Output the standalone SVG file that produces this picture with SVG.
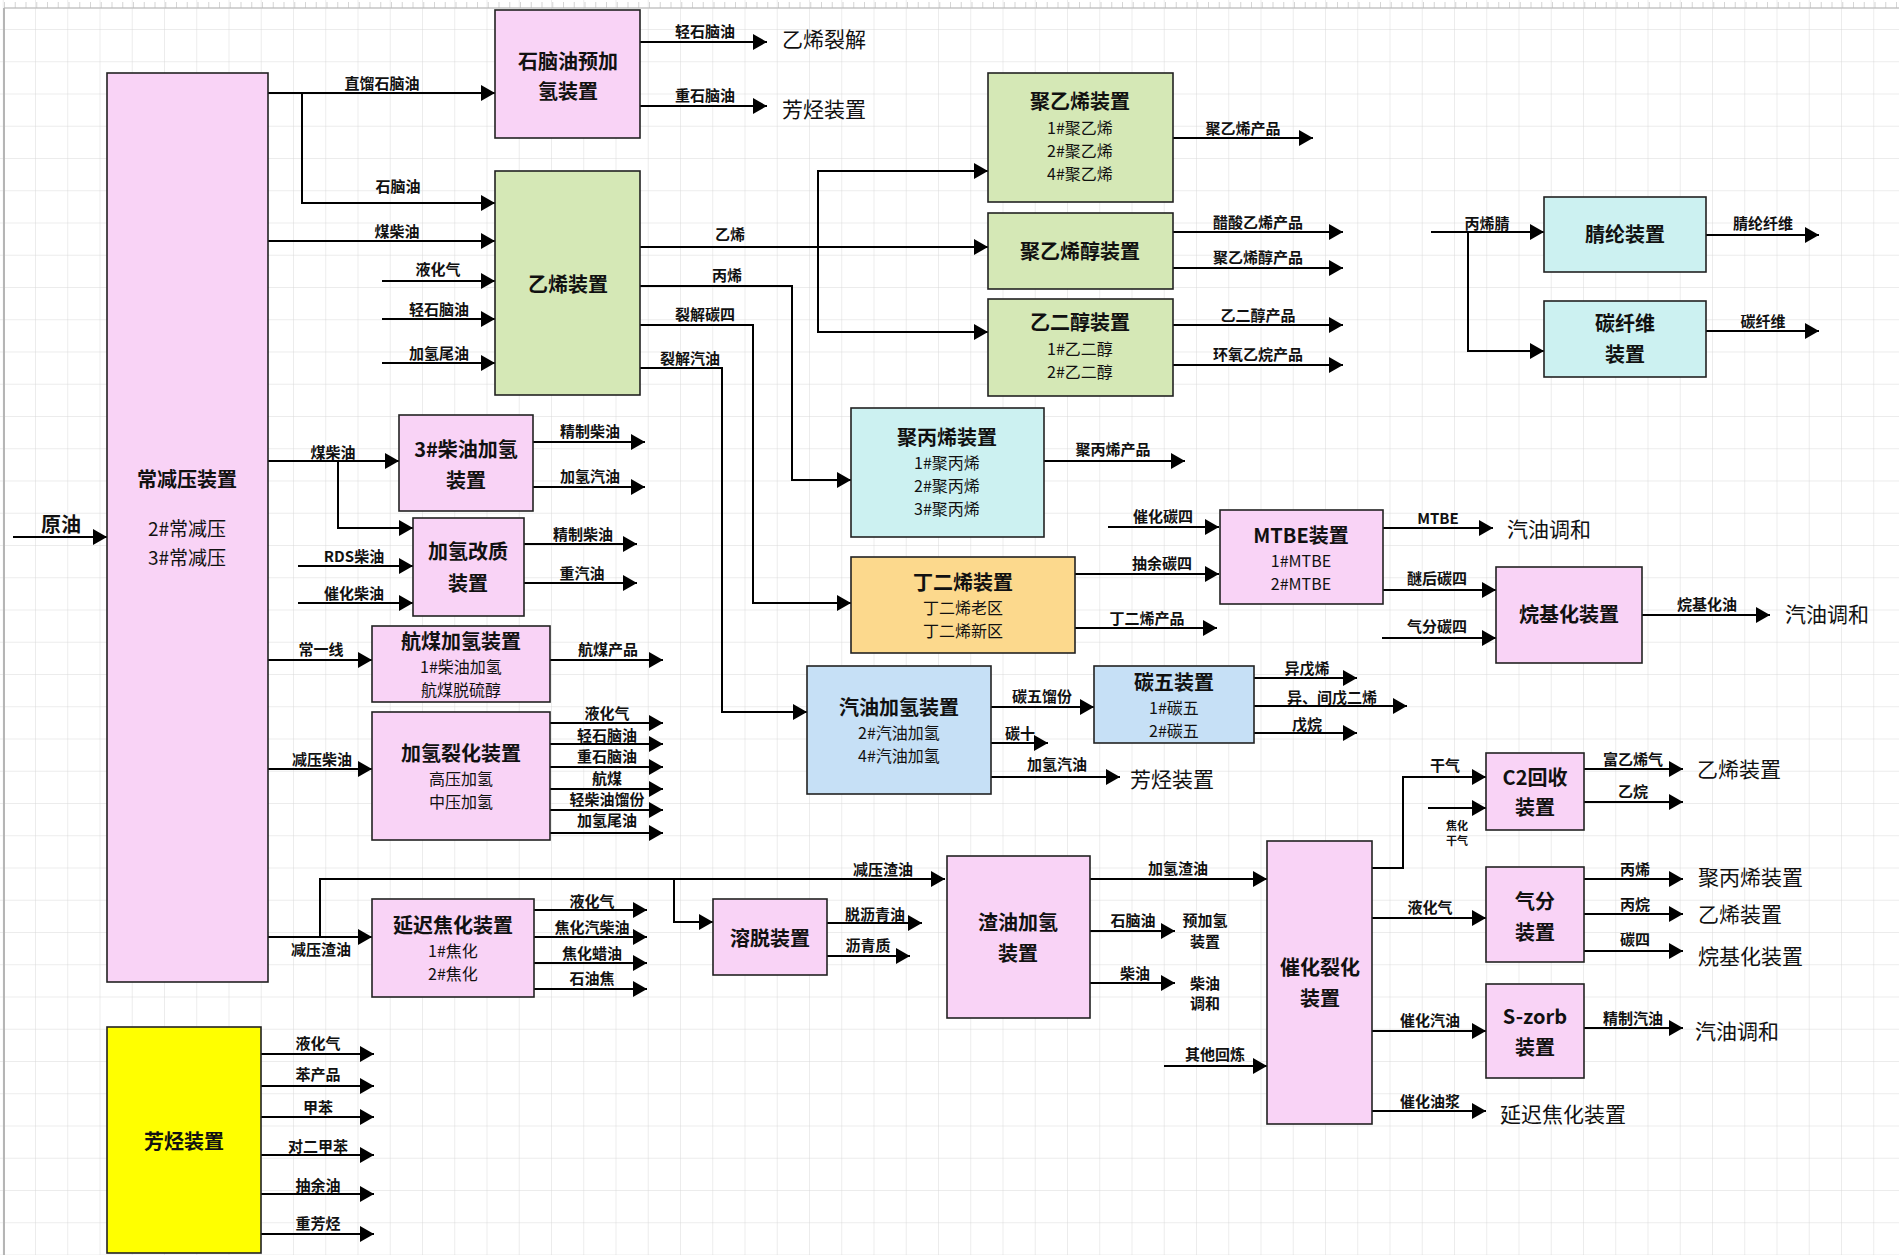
<svg xmlns="http://www.w3.org/2000/svg" width="1899" height="1255" viewBox="0 0 1899 1255">
<defs>
<pattern id="grid" x="2.75" y="-3.25" width="32.25" height="32.25" patternUnits="userSpaceOnUse">
<path d="M0,0 H32.25 M0,0 V32.25" fill="none" stroke="#d9d9d9" stroke-width="1"/>
</pattern>
<marker id="arr" markerUnits="userSpaceOnUse" markerWidth="15" markerHeight="16" refX="14" refY="8" orient="auto">
<path d="M0,0 L14,8 L0,16 z" fill="#000"/>
</marker>
<style>
text{font-family:"Noto Sans CJK SC","Noto Sans",sans-serif;fill:#111;dominant-baseline:central}
.box{stroke:#222;stroke-width:1.6}
.pink{fill:#f9d3f6}
.green{fill:#d5e8b6}
.cyan{fill:#ccf1f1}
.blue{fill:#c6e0f6}
.orange{fill:#fcd98d}
.yellow{fill:#ffff00}
.t{font-size:20px;font-weight:bold;text-anchor:middle}
.s{font-size:16px;text-anchor:middle}
.s2{font-size:19px;text-anchor:middle}
.l{font-size:15px;font-weight:bold;text-anchor:middle}
.ls{font-size:11px;font-weight:bold;text-anchor:middle}
.d{font-size:21px;text-anchor:start}
.c{fill:none;stroke:#000;stroke-width:2;marker-end:url(#arr)}
</style>
</defs>
<rect width="1899" height="1255" fill="#fff"/>
<rect width="1899" height="1255" fill="url(#grid)"/>
<line x1="4" y1="8" x2="1899" y2="8" stroke="#c4c4c4" stroke-width="1.5"/>
<line x1="4" y1="5" x2="1899" y2="5" stroke="#bbb" stroke-width="6" stroke-dasharray="1 9.75" opacity="0.6"/>
<line x1="4" y1="8" x2="4" y2="1255" stroke="#b5b5b5" stroke-width="2"/>

<g id="connectors">
<path class="c" d="M13,537 H107"/>
<path class="c" d="M268,93 H495"/>
<path class="c" d="M302,93 V203 H495"/>
<path class="c" d="M268,241 H495"/>
<path class="c" d="M382,281 H495"/>
<path class="c" d="M382,319 H495"/>
<path class="c" d="M382,363 H495"/>
<path class="c" d="M640,42 H767"/>
<path class="c" d="M640,106 H767"/>
<path class="c" d="M640,247 H988"/>
<path class="c" d="M818,247 V171 H988"/>
<path class="c" d="M818,247 V332 H988"/>
<path class="c" d="M640,286 H792 V480 H851"/>
<path class="c" d="M640,325 H753 V603 H851"/>
<path class="c" d="M640,368 H722 V712 H807"/>
<path class="c" d="M1173,138 H1313"/>
<path class="c" d="M1173,232 H1343"/>
<path class="c" d="M1173,268 H1343"/>
<path class="c" d="M1173,325 H1343"/>
<path class="c" d="M1173,365 H1343"/>
<path class="c" d="M1431,232 H1544"/>
<path class="c" d="M1468,232 V351 H1544"/>
<path class="c" d="M1706,235 H1819"/>
<path class="c" d="M1706,331 H1819"/>
<path class="c" d="M268,461 H399"/>
<path class="c" d="M338,461 V528 H413"/>
<path class="c" d="M298,566 H413"/>
<path class="c" d="M298,603 H413"/>
<path class="c" d="M533,442 H645"/>
<path class="c" d="M533,487 H645"/>
<path class="c" d="M524,544 H637"/>
<path class="c" d="M524,583 H637"/>
<path class="c" d="M268,660 H372"/>
<path class="c" d="M550,660 H663"/>
<path class="c" d="M268,769 H372"/>
<path class="c" d="M550,723 H663"/>
<path class="c" d="M550,744 H663"/>
<path class="c" d="M550,767 H663"/>
<path class="c" d="M550,789 H663"/>
<path class="c" d="M550,810 H663"/>
<path class="c" d="M550,833 H663"/>
<path class="c" d="M268,937 H372"/>
<path class="c" d="M320,937 V879 H945"/>
<path class="c" d="M674,879 V922 H713"/>
<path class="c" d="M534,910 H647"/>
<path class="c" d="M534,937 H647"/>
<path class="c" d="M534,963 H647"/>
<path class="c" d="M534,989 H647"/>
<path class="c" d="M827,923 H922"/>
<path class="c" d="M827,956 H910"/>
<path class="c" d="M1044,461 H1185"/>
<path class="c" d="M1108,527 H1219"/>
<path class="c" d="M1075,574 H1219"/>
<path class="c" d="M1075,628 H1217"/>
<path class="c" d="M1383,528 H1493"/>
<path class="c" d="M1383,590 H1496"/>
<path class="c" d="M1382,638 H1496"/>
<path class="c" d="M1642,615 H1770"/>
<path class="c" d="M991,707 H1094"/>
<path class="c" d="M991,743 H1048"/>
<path class="c" d="M991,777 H1120"/>
<path class="c" d="M1254,678 H1357"/>
<path class="c" d="M1254,706 H1407"/>
<path class="c" d="M1254,733 H1357"/>
<path class="c" d="M1090,879 H1267"/>
<path class="c" d="M1090,931 H1175"/>
<path class="c" d="M1090,983 H1175"/>
<path class="c" d="M1164,1066 H1267"/>
<path class="c" d="M1372,868 H1403 V777 H1486"/>
<path class="c" d="M1428,808 H1486"/>
<path class="c" d="M1584,769 H1683"/>
<path class="c" d="M1584,802 H1683"/>
<path class="c" d="M1372,918 H1486"/>
<path class="c" d="M1584,879 H1683"/>
<path class="c" d="M1584,914 H1683"/>
<path class="c" d="M1584,951 H1683"/>
<path class="c" d="M1372,1031 H1486"/>
<path class="c" d="M1584,1028 H1683"/>
<path class="c" d="M1372,1111 H1486"/>
<path class="c" d="M261,1054 H374"/>
<path class="c" d="M261,1086 H374"/>
<path class="c" d="M261,1117 H374"/>
<path class="c" d="M261,1155 H374"/>
<path class="c" d="M261,1194 H374"/>
<path class="c" d="M261,1234 H374"/>
</g>

<g id="labels">
<text class="l" x="382" y="82">直馏石脑油</text>
<text class="l" x="398" y="185">石脑油</text>
<text class="l" x="397" y="230">煤柴油</text>
<text class="l" x="438" y="268">液化气</text>
<text class="l" x="439" y="308">轻石脑油</text>
<text class="l" x="439" y="352">加氢尾油</text>
<text class="l" x="705" y="30">轻石脑油</text>
<text class="l" x="705" y="94">重石脑油</text>
<text class="l" x="730" y="233">乙烯</text>
<text class="l" x="727" y="274">丙烯</text>
<text class="l" x="705" y="313">裂解碳四</text>
<text class="l" x="690" y="357">裂解汽油</text>
<text class="l" x="1243" y="127">聚乙烯产品</text>
<text class="l" x="1258" y="221">醋酸乙烯产品</text>
<text class="l" x="1258" y="256">聚乙烯醇产品</text>
<text class="l" x="1258" y="314">乙二醇产品</text>
<text class="l" x="1258" y="353">环氧乙烷产品</text>
<text class="l" x="1487" y="222">丙烯腈</text>
<text class="l" x="1763" y="222">腈纶纤维</text>
<text class="l" x="1763" y="320">碳纤维</text>
<text class="l" x="333" y="451">煤柴油</text>
<text class="l" x="354" y="555">RDS柴油</text>
<text class="l" x="354" y="592">催化柴油</text>
<text class="l" x="590" y="430">精制柴油</text>
<text class="l" x="590" y="475">加氢汽油</text>
<text class="l" x="583" y="533">精制柴油</text>
<text class="l" x="582" y="572">重汽油</text>
<text class="l" x="321" y="648">常一线</text>
<text class="l" x="608" y="648">航煤产品</text>
<text class="l" x="322" y="758">减压柴油</text>
<text class="l" x="607" y="712">液化气</text>
<text class="l" x="607" y="734">轻石脑油</text>
<text class="l" x="607" y="755">重石脑油</text>
<text class="l" x="607" y="777">航煤</text>
<text class="l" x="607" y="798">轻柴油馏份</text>
<text class="l" x="607" y="819">加氢尾油</text>
<text class="l" x="321" y="948">减压渣油</text>
<text class="l" x="883" y="868">减压渣油</text>
<text class="l" x="592" y="900">液化气</text>
<text class="l" x="592" y="926">焦化汽柴油</text>
<text class="l" x="592" y="952">焦化蜡油</text>
<text class="l" x="592" y="977">石油焦</text>
<text class="l" x="875" y="913">脱沥青油</text>
<text class="l" x="868" y="944">沥青质</text>
<text class="l" x="1113" y="448">聚丙烯产品</text>
<text class="l" x="1163" y="515">催化碳四</text>
<text class="l" x="1162" y="562">抽余碳四</text>
<text class="l" x="1147" y="617">丁二烯产品</text>
<text class="l" x="1438" y="517">MTBE</text>
<text class="l" x="1437" y="577">醚后碳四</text>
<text class="l" x="1437" y="625">气分碳四</text>
<text class="l" x="1707" y="603">烷基化油</text>
<text class="l" x="1042" y="695">碳五馏份</text>
<text class="l" x="1020" y="732">碳十</text>
<text class="l" x="1057" y="763">加氢汽油</text>
<text class="l" x="1307" y="667">异戊烯</text>
<text class="l" x="1332" y="696">异、间戊二烯</text>
<text class="l" x="1307" y="723">戊烷</text>
<text class="l" x="1178" y="867">加氢渣油</text>
<text class="l" x="1133" y="919">石脑油</text>
<text class="l" x="1205" y="919">预加氢</text>
<text class="l" x="1205" y="940">装置</text>
<text class="l" x="1135" y="972">柴油</text>
<text class="l" x="1205" y="982">柴油</text>
<text class="l" x="1205" y="1002">调和</text>
<text class="l" x="1215" y="1053">其他回炼</text>
<text class="l" x="1445" y="764">干气</text>
<text class="ls" x="1457" y="825">焦化</text>
<text class="ls" x="1457" y="840">干气</text>
<text class="l" x="1633" y="758">富乙烯气</text>
<text class="l" x="1633" y="790">乙烷</text>
<text class="l" x="1430" y="906">液化气</text>
<text class="l" x="1635" y="868">丙烯</text>
<text class="l" x="1635" y="903">丙烷</text>
<text class="l" x="1635" y="938">碳四</text>
<text class="l" x="1430" y="1019">催化汽油</text>
<text class="l" x="1633" y="1017">精制汽油</text>
<text class="l" x="1430" y="1100">催化油浆</text>
<text class="l" x="318" y="1042">液化气</text>
<text class="l" x="318" y="1073">苯产品</text>
<text class="l" x="318" y="1106">甲苯</text>
<text class="l" x="318" y="1145">对二甲苯</text>
<text class="l" x="318" y="1184">抽余油</text>
<text class="l" x="318" y="1222">重芳烃</text>
<text class="l" x="61" y="523" style="font-size:20px">原油</text>
<text class="d" x="782" y="38">乙烯裂解</text>
<text class="d" x="782" y="108">芳烃装置</text>
<text class="d" x="1507" y="528">汽油调和</text>
<text class="d" x="1785" y="613">汽油调和</text>
<text class="d" x="1130" y="778">芳烃装置</text>
<text class="d" x="1697" y="768">乙烯装置</text>
<text class="d" x="1698" y="876">聚丙烯装置</text>
<text class="d" x="1698" y="913">乙烯装置</text>
<text class="d" x="1698" y="955">烷基化装置</text>
<text class="d" x="1695" y="1030">汽油调和</text>
<text class="d" x="1500" y="1113">延迟焦化装置</text>
</g>

<g id="n-changjianya"><rect class="box pink" x="107" y="73" width="161" height="909"/>
<text class="t" x="187" y="478">常减压装置</text><text class="s2" x="187" y="527">2#常减压</text><text class="s2" x="187" y="556">3#常减压</text></g>
<g id="n-naphtha-pre"><rect class="box pink" x="495" y="10" width="145" height="128"/>
<text class="t" x="568" y="60">石脑油预加</text><text class="t" x="568" y="90">氢装置</text></g>
<g id="n-ethylene"><rect class="box green" x="495" y="171" width="145" height="224"/>
<text class="t" x="568" y="283">乙烯装置</text></g>
<g id="n-pe"><rect class="box green" x="988" y="73" width="185" height="129"/>
<text class="t" x="1080" y="100">聚乙烯装置</text><text class="s" x="1080" y="127">1#聚乙烯</text><text class="s" x="1080" y="150">2#聚乙烯</text><text class="s" x="1080" y="173">4#聚乙烯</text></g>
<g id="n-pva"><rect class="box green" x="988" y="213" width="185" height="76"/>
<text class="t" x="1080" y="250">聚乙烯醇装置</text></g>
<g id="n-eg"><rect class="box green" x="988" y="299" width="185" height="97"/>
<text class="t" x="1080" y="321">乙二醇装置</text><text class="s" x="1080" y="348">1#乙二醇</text><text class="s" x="1080" y="371">2#乙二醇</text></g>
<g id="n-acrylic"><rect class="box cyan" x="1544" y="197" width="162" height="75"/>
<text class="t" x="1625" y="233">腈纶装置</text></g>
<g id="n-cf"><rect class="box cyan" x="1544" y="301" width="162" height="76"/>
<text class="t" x="1625" y="322">碳纤维</text><text class="t" x="1625" y="353">装置</text></g>
<g id="n-diesel3"><rect class="box pink" x="399" y="415" width="134" height="96"/>
<text class="t" x="466" y="448">3#柴油加氢</text><text class="t" x="466" y="479">装置</text></g>
<g id="n-upgrade"><rect class="box pink" x="413" y="518" width="111" height="98"/>
<text class="t" x="468" y="550">加氢改质</text><text class="t" x="468" y="582">装置</text></g>
<g id="n-jet"><rect class="box pink" x="372" y="626" width="178" height="76"/>
<text class="t" x="461" y="640">航煤加氢装置</text><text class="s" x="461" y="666">1#柴油加氢</text><text class="s" x="461" y="689">航煤脱硫醇</text></g>
<g id="n-hcu"><rect class="box pink" x="372" y="712" width="178" height="128"/>
<text class="t" x="461" y="752">加氢裂化装置</text><text class="s" x="461" y="778">高压加氢</text><text class="s" x="461" y="801">中压加氢</text></g>
<g id="n-coker"><rect class="box pink" x="372" y="899" width="162" height="98"/>
<text class="t" x="453" y="924">延迟焦化装置</text><text class="s" x="453" y="950">1#焦化</text><text class="s" x="453" y="973">2#焦化</text></g>
<g id="n-sda"><rect class="box pink" x="713" y="899" width="114" height="76"/>
<text class="t" x="770" y="937">溶脱装置</text></g>
<g id="n-rds"><rect class="box pink" x="947" y="856" width="143" height="162"/>
<text class="t" x="1018" y="921">渣油加氢</text><text class="t" x="1018" y="952">装置</text></g>
<g id="n-fcc"><rect class="box pink" x="1267" y="841" width="105" height="283"/>
<text class="t" x="1320" y="966">催化裂化</text><text class="t" x="1320" y="997">装置</text></g>
<g id="n-c2"><rect class="box pink" x="1486" y="753" width="98" height="77"/>
<text class="t" x="1535" y="776">C2回收</text><text class="t" x="1535" y="806">装置</text></g>
<g id="n-gasfrac"><rect class="box pink" x="1486" y="867" width="98" height="95"/>
<text class="t" x="1535" y="900">气分</text><text class="t" x="1535" y="931">装置</text></g>
<g id="n-szorb"><rect class="box pink" x="1486" y="984" width="98" height="94"/>
<text class="t" x="1535" y="1015">S-zorb</text><text class="t" x="1535" y="1046">装置</text></g>
<g id="n-pp"><rect class="box cyan" x="851" y="408" width="193" height="129"/>
<text class="t" x="947" y="436">聚丙烯装置</text><text class="s" x="947" y="462">1#聚丙烯</text><text class="s" x="947" y="485">2#聚丙烯</text><text class="s" x="947" y="508">3#聚丙烯</text></g>
<g id="n-bd"><rect class="box orange" x="851" y="557" width="224" height="96"/>
<text class="t" x="963" y="581">丁二烯装置</text><text class="s" x="963" y="607">丁二烯老区</text><text class="s" x="963" y="630">丁二烯新区</text></g>
<g id="n-mtbe"><rect class="box pink" x="1220" y="510" width="163" height="94"/>
<text class="t" x="1301" y="534">MTBE装置</text><text class="s" x="1301" y="560">1#MTBE</text><text class="s" x="1301" y="583">2#MTBE</text></g>
<g id="n-alky"><rect class="box pink" x="1496" y="567" width="146" height="96"/>
<text class="t" x="1569" y="613">烷基化装置</text></g>
<g id="n-gasoline-ht"><rect class="box blue" x="807" y="666" width="184" height="128"/>
<text class="t" x="899" y="706">汽油加氢装置</text><text class="s" x="899" y="732">2#汽油加氢</text><text class="s" x="899" y="755">4#汽油加氢</text></g>
<g id="n-c5"><rect class="box blue" x="1094" y="666" width="160" height="77"/>
<text class="t" x="1174" y="681">碳五装置</text><text class="s" x="1174" y="707">1#碳五</text><text class="s" x="1174" y="730">2#碳五</text></g>
<g id="n-aromatics"><rect class="box yellow" x="107" y="1027" width="154" height="226"/>
<text class="t" x="184" y="1140">芳烃装置</text></g>
</svg>
